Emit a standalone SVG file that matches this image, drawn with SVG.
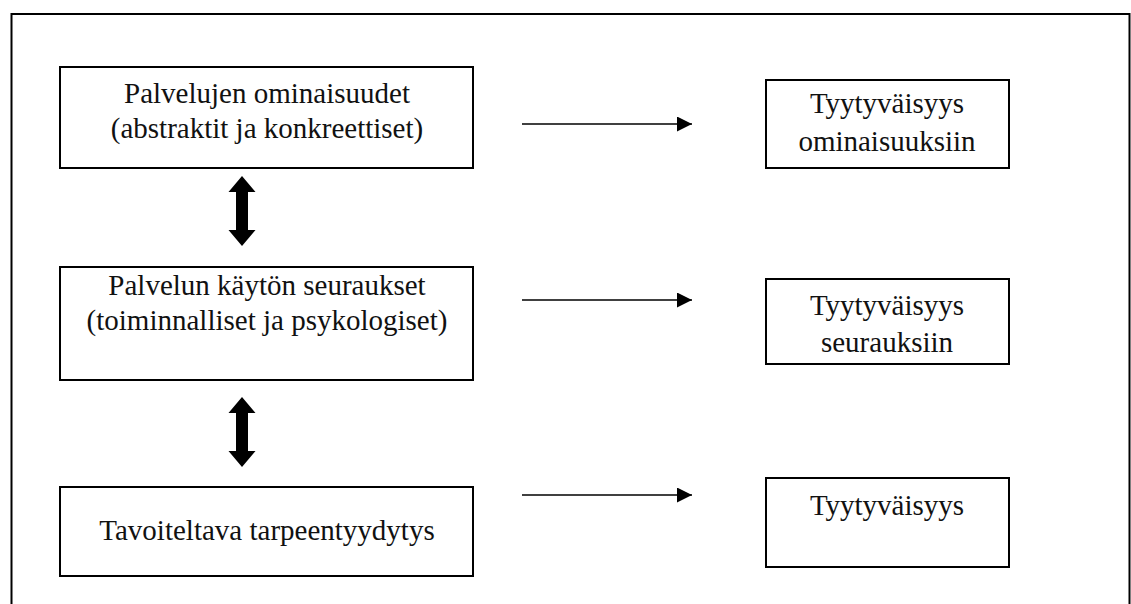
<svg xmlns="http://www.w3.org/2000/svg" width="1131" height="604" viewBox="0 0 1131 604">
  <style>
    .box { fill: #fff; stroke: #000; stroke-width: 2; }
    .frame { fill: none; stroke: #000; stroke-width: 2; }
    .lbl { font-family: "Liberation Serif", "Times New Roman", serif; font-size: 29px; fill: #111; text-anchor: middle; }
    .line { stroke: #000; stroke-width: 1.6; fill: none; }
    .dbl { fill: #000; }
  </style>
  <defs>
    <marker id="head" markerWidth="15" markerHeight="15" refX="15" refY="7.5" orient="auto" markerUnits="userSpaceOnUse">
      <path d="M0,0 L15,7.5 L0,15 Z" fill="#000"/>
    </marker>
    <!-- thick double-headed arrow, centred at origin, 70 tall -->
    <path id="dblArrow" d="M0,-35 L13.5,-19 L6,-19 L6,19 L13.5,19 L0,35 L-13.5,19 L-6,19 L-6,-19 L-13.5,-19 Z"/>
  </defs>

  <rect x="0" y="0" width="1131" height="604" fill="#fff"/>
  <!-- outer frame -->
  <rect class="frame" x="11.5" y="14" width="1118" height="620"/>

  <g id="n-ominaisuudet">
    <rect class="box" x="60" y="67" width="413" height="101"/>
    <text class="lbl" x="267" y="103">Palvelujen ominaisuudet</text>
    <text class="lbl" x="267" y="138">(abstraktit ja konkreettiset)</text>
  </g>
  <g id="n-seuraukset">
    <rect class="box" x="60" y="267" width="413" height="113"/>
    <text class="lbl" x="267" y="295">Palvelun käytön seuraukset</text>
    <text class="lbl" x="267" y="330">(toiminnalliset ja psykologiset)</text>
  </g>
  <g id="n-tarpeentyydytys">
    <rect class="box" x="60" y="487" width="413" height="89"/>
    <text class="lbl" x="267" y="540">Tavoiteltava tarpeentyydytys</text>
  </g>

  <g id="n-tyyt-ominaisuuksiin">
    <rect class="box" x="766" y="80" width="243" height="88"/>
    <text class="lbl" x="887" y="113">Tyytyväisyys</text>
    <text class="lbl" x="887" y="151">ominaisuuksiin</text>
  </g>
  <g id="n-tyyt-seurauksiin">
    <rect class="box" x="766" y="279" width="243" height="85"/>
    <text class="lbl" x="887" y="315">Tyytyväisyys</text>
    <text class="lbl" x="887" y="352">seurauksiin</text>
  </g>
  <g id="n-tyytyvaisyys">
    <rect class="box" x="766" y="478" width="243" height="89"/>
    <text class="lbl" x="887" y="515">Tyytyväisyys</text>
  </g>

  <g id="connectors">
    <line class="line" x1="522" y1="124" x2="692" y2="124" marker-end="url(#head)"/>
    <line class="line" x1="522" y1="300" x2="692" y2="300" marker-end="url(#head)"/>
    <line class="line" x1="522" y1="495" x2="692" y2="495" marker-end="url(#head)"/>
    <use href="#dblArrow" class="dbl" x="242" y="211"/>
    <use href="#dblArrow" class="dbl" x="242" y="432"/>
  </g>
</svg>
